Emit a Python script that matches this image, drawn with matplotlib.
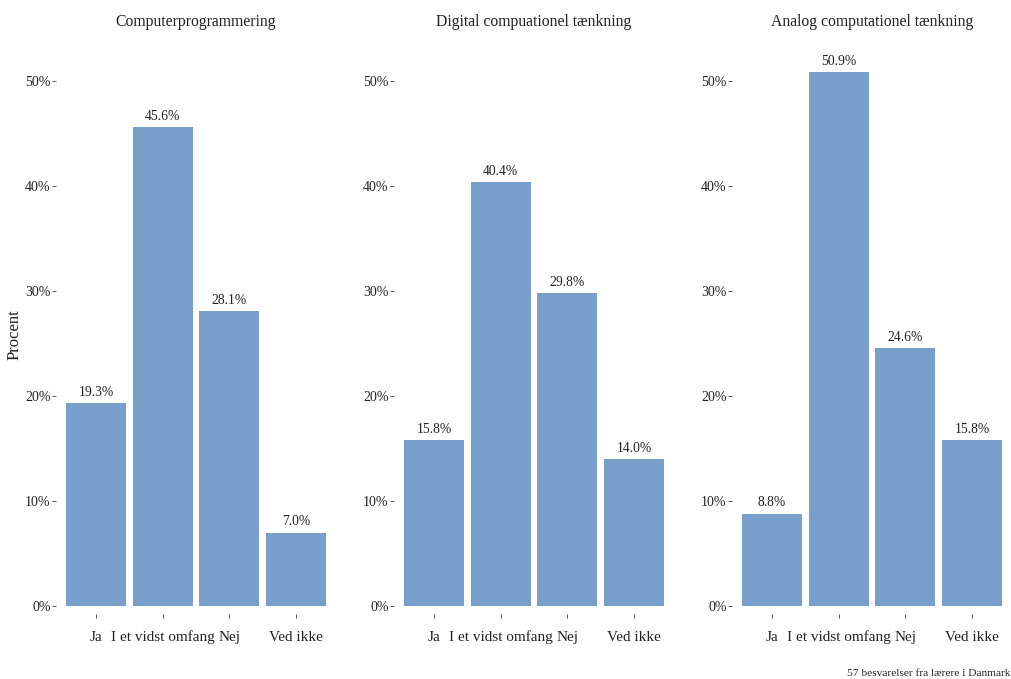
import matplotlib
matplotlib.use("Agg")
import matplotlib.pyplot as plt
from matplotlib.ticker import PercentFormatter

plt.rcParams["font.family"] = ["Liberation Serif", "DejaVu Serif"]

categories = ["Ja", "I et vidst omfang", "Nej", "Ved ikke"]
panel_titles = ["Computerprogrammering", "Digital compuationel tænkning",
                "Analog computationel tænkning"]
computer = [0.193, 0.456, 0.281, 0.070]
digital = [0.158, 0.404, 0.298, 0.140]
analog = [0.088, 0.509, 0.246, 0.158]
y_ticks = [0, 0.1, 0.2, 0.3, 0.4, 0.5]

bar_color = "#789fcc"
text_color = "#222222"

fig = plt.figure(figsize=(10.11, 6.79), dpi=100)
lefts = [56 / 1011, 394 / 1011, 732 / 1011]
width = 280 / 1011
bottom = 65 / 679
height = 559 / 679

for i, (title, vals) in enumerate(zip(panel_titles, [computer, digital, analog])):
    ax = fig.add_axes([lefts[i], bottom, width, height])
    x = range(len(categories))
    ax.bar(x, vals, width=0.9, color=bar_color)
    for xi, v in zip(x, vals):
        ax.text(xi, v + 0.004, f"{v * 100:.1f}%", ha="center", va="bottom",
                fontsize=9.8, color=text_color)
    ax.set_xlim(-0.6, 3.6)
    ax.set_ylim(-0.0076, 0.525)
    ax.set_xticks(list(x))
    ax.set_xticklabels(categories, fontsize=11, color=text_color)
    ax.set_yticks(y_ticks)
    ax.yaxis.set_major_formatter(PercentFormatter(1.0, decimals=0))
    ax.tick_params(axis="y", labelsize=10, colors="#555555", labelcolor=text_color,
                   length=3, width=0.7, pad=0.8)
    ax.tick_params(axis="x", length=3, width=0.7, pad=9, colors="#555555",
                   labelcolor=text_color)
    for s in ax.spines.values():
        s.set_visible(False)
    ax.set_title(title, fontsize=11.3, color=text_color, pad=21)
    if i == 0:
        ax.set_ylabel("Procent", fontsize=12, color=text_color)
        ax.yaxis.set_label_coords(-0.121, 0.5)

fig.text(0.999, 0.002, "57 besvarelser fra lærere i Danmark", ha="right", va="bottom",
         fontsize=8.2, color=text_color)

fig.savefig("out.png", dpi=100)
